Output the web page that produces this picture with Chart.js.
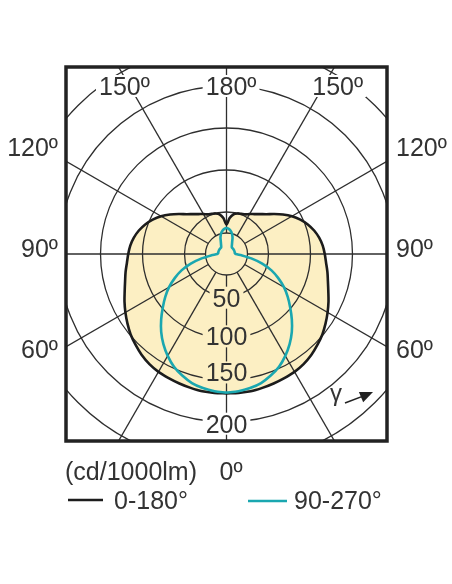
<!DOCTYPE html>
<html>
<head>
<meta charset="utf-8">
<script src="https://cdn.jsdelivr.net/npm/chart.js@4.4.0/dist/chart.umd.min.js"></script>
<style>
  body { margin: 0; background: #fff; }
  canvas { display: block; }
</style>
</head>
<body>
<canvas id="polar" width="452" height="584"></canvas>
<script>
// Luminous intensity, cd/1000lm, gamma 0 = straight down
const gammaAngles = [0, 5, 10, 15, 20, 25, 30, 35, 40, 45, 50, 55, 60, 65, 70, 75, 80, 85, 90,
  95, 100, 105, 110, 115, 120, 125, 130, 135, 140, 145, 150, 155, 160, 165, 170, 175, 180];
const plane0to180 = [166, 166, 166, 165, 164, 163, 162, 160, 157, 153, 149, 144, 139, 134, 129, 125, 122, 119, 117,
  115, 112, 108, 103, 97, 90, 82, 74, 67, 62, 58, 55, 52, 51, 50, 48, 43, 35];
const plane90to270 = [165, 164, 162, 159, 154, 148, 140, 131, 121, 110, 99, 89, 79, 68, 57, 44, 30, 18, 11,
  10, 10, 10, 10, 10, 10, 10, 10, 10, 10, 11, 13, 16, 21, 25, 28, 30, 31];

const ringValues = [25, 50, 100, 150, 200, 250];
const ringLabels = ["50", "100", "150", "200"];
const spokeAngles = [0, 30, 60, 90, 120, 150, 180, 210, 240, 270, 300, 330];
const topLabels = ["150", "180", "150"];
const sideLabels = ["120", "90", "60"];

const textColor = "#333";
const yellow = "#fcefc3";
const labelFont = '25px "Liberation Sans", Arial, sans-serif';

const rad = (deg) => (deg * Math.PI) / 180;

// right half (C0 / C90) then mirrored left half (C180 / C270)
const toShape = (values) => {
  const right = gammaAngles.map((g, i) => ({
    x: values[i] * Math.sin(rad(g)),
    y: -values[i] * Math.cos(rad(g)),
  }));
  const left = right.slice(0, -1).reverse().map((p) => ({ x: -p.x, y: p.y }));
  return right.concat(left);
};

// number centred on (xMid, yMid), degree sign hanging to the right
const putLabel = (ctx, num, suffix, xMid, yMid, bg) => {
  ctx.font = labelFont;
  const wNum = ctx.measureText(num).width;
  const wAll = ctx.measureText(num + suffix).width;
  const left = xMid - wNum / 2;
  if (bg) {
    ctx.fillStyle = bg;
    ctx.fillRect(left - 3, yMid - 11, wAll + 6, 22);
  }
  ctx.fillStyle = textColor;
  ctx.textAlign = "left";
  ctx.textBaseline = "alphabetic";
  ctx.fillText(num + suffix, left, yMid + 9);
};

const polarGrid = {
  id: "polarGrid",
  afterDatasetDraw(chart, args) {
    if (args.index !== 2) return;
    const { ctx, chartArea: a, scales: { x, y } } = chart;
    const cx = x.getPixelForValue(0);
    const cy = y.getPixelForValue(0);
    const kx = (x.getPixelForValue(100) - cx) / 100;
    const ky = (cy - y.getPixelForValue(100)) / 100;

    ctx.save();
    ctx.beginPath();
    ctx.rect(a.left, a.top, a.right - a.left, a.bottom - a.top);
    ctx.clip();
    ctx.strokeStyle = "#2e2e2e";
    ctx.lineWidth = 1.3;

    ringValues.forEach((v) => {
      ctx.beginPath();
      ctx.ellipse(cx, cy, v * kx, v * ky, 0, 0, 2 * Math.PI);
      ctx.stroke();
    });

    spokeAngles.forEach((g) => {
      const s = Math.sin(rad(g));
      const c = Math.cos(rad(g));
      ctx.beginPath();
      ctx.moveTo(cx + ringValues[0] * kx * s, cy + ringValues[0] * ky * c);
      ctx.lineTo(cx + 400 * kx * s, cy + 400 * ky * c);
      ctx.stroke();
    });

    // scale values along the 0° axis
    const shift = [2, -2, -9, 2];
    ringLabels.forEach((t, i) => {
      const v = Number(t) + shift[i];
      putLabel(ctx, t, "", cx, y.getPixelForValue(-v), v > 190 ? "#fff" : yellow);
    });

    // angle values along the top
    [-127, 0, 127].forEach((dx, i) => {
      putLabel(ctx, topLabels[i], "º", x.getPixelForValue(dx), y.getPixelForValue(200), "#fff");
    });
    ctx.restore();
  },
  afterDraw(chart) {
    const { ctx, chartArea: a, scales: { x, y } } = chart;
    const cx = x.getPixelForValue(0);
    const cy = y.getPixelForValue(0);

    ctx.save();
    ctx.strokeStyle = "#222";
    ctx.lineWidth = 3.5;
    ctx.strokeRect(a.left, a.top, a.right - a.left, a.bottom - a.top);

    // side angle labels
    ctx.font = labelFont;
    ctx.fillStyle = textColor;
    ctx.textBaseline = "alphabetic";
    [-107, -6, 95].forEach((dy, i) => {
      const t = sideLabels[i] + "º";
      ctx.textAlign = "right";
      ctx.fillText(t, a.left - 8, cy + dy + 9);
      ctx.textAlign = "left";
      ctx.fillText(t, a.right + 9, cy + dy + 9);
    });

    // gamma direction
    ctx.textAlign = "left";
    ctx.font = '24px "Liberation Sans", Arial, sans-serif';
    ctx.fillText("γ", a.right - 57, a.bottom - 40);
    const tipX = a.right - 14;
    const tipY = a.bottom - 49;
    const ang = rad(-23);
    ctx.lineWidth = 1.6;
    ctx.strokeStyle = "#222";
    ctx.beginPath();
    ctx.moveTo(a.right - 42, a.bottom - 38);
    ctx.lineTo(tipX - 8 * Math.cos(ang), tipY - 8 * Math.sin(ang));
    ctx.stroke();
    ctx.fillStyle = "#222";
    ctx.beginPath();
    ctx.moveTo(tipX, tipY);
    ctx.lineTo(tipX - 13 * Math.cos(ang) - 5.5 * Math.sin(ang), tipY - 13 * Math.sin(ang) + 5.5 * Math.cos(ang));
    ctx.lineTo(tipX - 13 * Math.cos(ang) + 5.5 * Math.sin(ang), tipY - 13 * Math.sin(ang) - 5.5 * Math.cos(ang));
    ctx.closePath();
    ctx.fill();

    // unit + legend
    ctx.font = labelFont;
    ctx.fillStyle = textColor;
    ctx.fillText("(cd/1000lm)", 65, 480);
    ctx.fillText("0º", cx - 7, 480);
    ctx.lineWidth = 2.6;
    ctx.strokeStyle = "#1c1c1c";
    ctx.beginPath();
    ctx.moveTo(68, 500);
    ctx.lineTo(103, 500);
    ctx.stroke();
    ctx.fillText("0-180°", 114, 509);
    ctx.strokeStyle = "#1aa7b0";
    ctx.beginPath();
    ctx.moveTo(248, 501);
    ctx.lineTo(287, 501);
    ctx.stroke();
    ctx.fillText("90-270°", 294, 509);
    ctx.restore();
  },
};

new Chart(document.getElementById("polar"), {
  type: "scatter",
  data: {
    datasets: [
      {
        label: "90-270°",
        data: toShape(plane90to270),
        showLine: true,
        borderColor: "#1aa7b0",
        borderWidth: 2.6,
        pointRadius: 0,
        tension: 0.3,
        fill: false,
      },
      {
        label: "0-180°",
        data: toShape(plane0to180),
        showLine: true,
        borderColor: "#1c1c1c",
        borderWidth: 2.6,
        pointRadius: 0,
        tension: 0.3,
        fill: false,
      },
      {
        label: "area",
        data: toShape(plane0to180),
        showLine: true,
        borderWidth: 0,
        borderColor: "rgba(0,0,0,0)",
        backgroundColor: yellow,
        pointRadius: 0,
        tension: 0.3,
        fill: "shape",
      },
    ],
  },
  options: {
    responsive: false,
    animation: false,
    layout: {
      padding: { left: 66, right: 65, top: 67, bottom: 143 },
    },
    scales: {
      x: { type: "linear", min: -191.1, max: 191.1, display: false },
      y: { type: "linear", min: -222.6, max: 222.6, display: false },
    },
    plugins: {
      legend: { display: false },
      tooltip: { enabled: false },
    },
  },
  plugins: [polarGrid],
});
</script>
</body>
</html>
